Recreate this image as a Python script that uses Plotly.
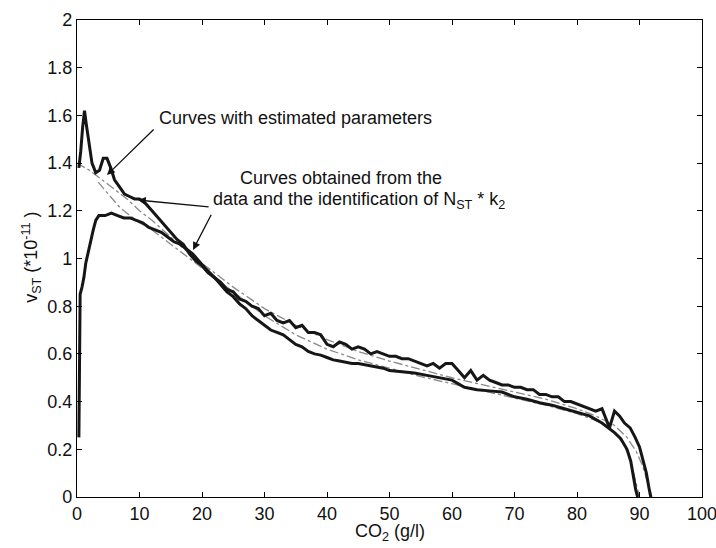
import plotly.graph_objects as go

# Curve A: upper measured curve (data-based)
A_x = [0.3, 0.6, 0.9, 1.2, 1.5, 1.9, 2.4, 3.0, 3.6, 4.2, 4.8, 5.4, 6.0, 6.8, 7.6, 8.4, 9.2, 10.0,
       11, 12, 13, 14, 15, 16, 17, 18, 19, 20, 21, 22, 23, 24, 25, 26, 27, 28, 29, 30,
       31, 32, 33, 34, 35, 36, 37, 38, 39, 40, 41, 42, 43, 44, 45, 46, 47, 48, 49, 50,
       51, 52, 53, 54, 55, 56, 57, 58, 59, 60, 61, 62, 63, 64, 65, 66, 67, 68, 69, 70,
       71, 72, 73, 74, 75, 76, 77, 78, 79, 80, 81, 82, 83, 84, 84.6, 85.2, 86.0, 86.8,
       87.6, 88.5, 89.3, 90.0, 90.6, 91.1, 91.5, 91.8]
A_y = [1.38, 1.45, 1.55, 1.62, 1.56, 1.48, 1.40, 1.36, 1.37, 1.42, 1.42, 1.38, 1.33, 1.30, 1.27, 1.26, 1.25, 1.25,
       1.23, 1.20, 1.17, 1.14, 1.11, 1.08, 1.06, 1.02, 0.99, 0.97, 0.94, 0.92, 0.90, 0.87, 0.86, 0.83, 0.82, 0.80, 0.79, 0.76,
       0.77, 0.74, 0.73, 0.74, 0.71, 0.72, 0.69, 0.69, 0.68, 0.64, 0.63, 0.65, 0.64, 0.62, 0.63, 0.62, 0.60, 0.61, 0.60, 0.59,
       0.59, 0.58, 0.58, 0.57, 0.56, 0.55, 0.56, 0.54, 0.56, 0.56, 0.53, 0.50, 0.53, 0.49, 0.51, 0.49, 0.48, 0.47, 0.47, 0.46,
       0.46, 0.45, 0.45, 0.43, 0.43, 0.42, 0.42, 0.40, 0.40, 0.39, 0.38, 0.37, 0.36, 0.37, 0.33, 0.29, 0.36, 0.34,
       0.31, 0.29, 0.25, 0.21, 0.15, 0.10, 0.04, 0.0]

# Curve B: lower measured curve (data-based)
B_x = [0.3, 0.4, 0.5, 0.8, 1.1, 1.4, 1.8, 2.2, 2.6, 3.0, 3.5, 4.5, 5.5, 6.5, 7.5, 8.5, 9.5, 10.5,
       11.5, 12.5, 13.5, 14.5, 15.5, 16.5, 17.5, 18.5, 19.5, 20.5, 22, 23, 24, 25, 26, 27, 28, 29,
       30, 31, 32, 33, 34, 35, 36, 37, 38, 39, 40, 41, 42, 43, 44, 45, 46, 47, 48, 49, 50,
       52, 54, 56, 58, 60, 62, 64, 66, 68, 70, 72, 74, 76, 78, 80, 82, 84, 85, 86, 87, 88,
       88.6, 89.0, 89.4, 89.7]
B_y = [0.25, 0.60, 0.85, 0.88, 0.92, 0.98, 1.03, 1.07, 1.12, 1.16, 1.18, 1.18, 1.19, 1.18, 1.17, 1.17, 1.16, 1.15,
       1.13, 1.12, 1.11, 1.09, 1.07, 1.06, 1.04, 1.02, 0.99, 0.96, 0.92, 0.89, 0.86, 0.84, 0.81, 0.79, 0.76, 0.74,
       0.72, 0.70, 0.69, 0.68, 0.66, 0.64, 0.63, 0.61, 0.60, 0.595, 0.585, 0.575, 0.57, 0.565, 0.56, 0.56, 0.555, 0.55, 0.545, 0.54, 0.53,
       0.525, 0.52, 0.51, 0.50, 0.49, 0.46, 0.45, 0.445, 0.44, 0.42, 0.41, 0.395, 0.385, 0.37, 0.355, 0.34, 0.31, 0.29, 0.27, 0.245, 0.20,
       0.15, 0.08, 0.03, 0.0]

# Curves with estimated parameters
E1_x = [0, 1, 2, 3, 4, 5, 6, 8, 10, 12, 15, 18, 20, 25, 30, 35, 40, 45, 50, 55, 60, 65, 70, 75, 80,
        83, 86, 88, 89.5, 90.5, 91.3, 92.0]
E1_y = [1.40, 1.385, 1.37, 1.35, 1.33, 1.31, 1.29, 1.25, 1.20, 1.16, 1.09, 1.02, 0.98, 0.88, 0.79, 0.72,
        0.66, 0.61, 0.57, 0.535, 0.50, 0.47, 0.44, 0.41, 0.37, 0.34, 0.30, 0.25, 0.19, 0.13, 0.06, 0.0]
E2_x = [3.4, 4, 5, 6, 7, 8, 9, 10, 12, 15, 18, 20, 25, 30, 35, 40, 45, 50, 55, 60, 65, 70, 75, 80,
        84, 86, 87.5, 88.5, 89.3, 90.0]
E2_y = [1.32, 1.30, 1.27, 1.24, 1.21, 1.19, 1.17, 1.15, 1.12, 1.06, 1.00, 0.96, 0.86, 0.76, 0.68, 0.62,
        0.575, 0.54, 0.505, 0.475, 0.445, 0.415, 0.385, 0.35, 0.31, 0.27, 0.22, 0.16, 0.08, 0.0]

x_ticks = [0, 10, 20, 30, 40, 50, 60, 70, 80, 90, 100]
y_ticks = [0, 0.2, 0.4, 0.6, 0.8, 1, 1.2, 1.4, 1.6, 1.8, 2]
y_tick_text = ["0", "0.2", "0.4", "0.6", "0.8", "1", "1.2", "1.4", "1.6", "1.8", "2"]

FONT = "Liberation Sans, Arial, sans-serif"
FS = 18
TXT = "#111"

fig = go.Figure()
for ex, ey in [(E1_x, E1_y), (E2_x, E2_y)]:
    fig.add_trace(go.Scatter(x=ex, y=ey, mode="lines",
                             line=dict(color="#8a8a8a", width=1.3, dash="dashdot")))
for mx, my in [(A_x, A_y), (B_x, B_y)]:
    fig.add_trace(go.Scatter(x=mx, y=my, mode="lines",
                             line=dict(color="#161616", width=3)))

# text annotations
fig.add_annotation(x=35.0, y=1.589, xref="x", yref="y", showarrow=False,
                   text="Curves with estimated parameters",
                   font=dict(family=FONT, size=FS, color=TXT))
fig.add_annotation(x=42.2, y=1.338, xref="x", yref="y", showarrow=False,
                   text="Curves obtained from the",
                   font=dict(family=FONT, size=FS, color=TXT))
fig.add_annotation(x=45.1, y=1.245, xref="x", yref="y", showarrow=False,
                   text="data and the identification of N<sub>ST</sub> * k<sub>2</sub>",
                   font=dict(family=FONT, size=FS, color=TXT))

# arrows (head -> tail in data coords)
arrows = [((4.8, 1.35), (12.5, 1.547)),
          ((9.76, 1.245), (21.3, 1.216)),
          ((18.56, 1.036), (21.6, 1.19))]
for (hx, hy), (tx, ty) in arrows:
    fig.add_annotation(x=hx, y=hy, ax=tx, ay=ty, xref="x", yref="y", axref="x", ayref="y",
                       text="", showarrow=True, arrowhead=2, arrowsize=1.2, arrowwidth=1.3,
                       arrowcolor="#111", standoff=0, startstandoff=0)

# axis titles
fig.add_annotation(x=-0.074, y=0.503, xref="paper", yref="paper", showarrow=False,
                   textangle=-90, xanchor="center", yanchor="middle",
                   text="v<sub>ST</sub> (*10<sup>-11</sup> )",
                   font=dict(family=FONT, size=FS, color=TXT))
fig.add_annotation(x=0.5, y=-0.075, xref="paper", yref="paper", showarrow=False,
                   xanchor="center", yanchor="middle",
                   text="CO<sub>2</sub> (g/l)",
                   font=dict(family=FONT, size=FS, color=TXT))

axis_common = dict(showline=True, linecolor="black", linewidth=1.2, mirror="ticks",
                   ticks="inside", ticklen=5, tickwidth=1.2, tickcolor="black",
                   showgrid=False, zeroline=False, automargin=False,
                   ticklabeloverflow="allow",
                   tickfont=dict(family=FONT, size=FS, color=TXT))

fig.update_layout(
    width=716, height=548,
    margin=dict(l=77, r=14, t=20, b=51),
    paper_bgcolor="white", plot_bgcolor="white",
    showlegend=False,
    font=dict(family=FONT, size=FS, color=TXT),
    xaxis=dict(range=[0, 100], tickvals=x_ticks, **axis_common),
    yaxis=dict(range=[0, 2], tickvals=y_ticks, ticktext=y_tick_text, **axis_common),
)

fig.write_html("out.html")
